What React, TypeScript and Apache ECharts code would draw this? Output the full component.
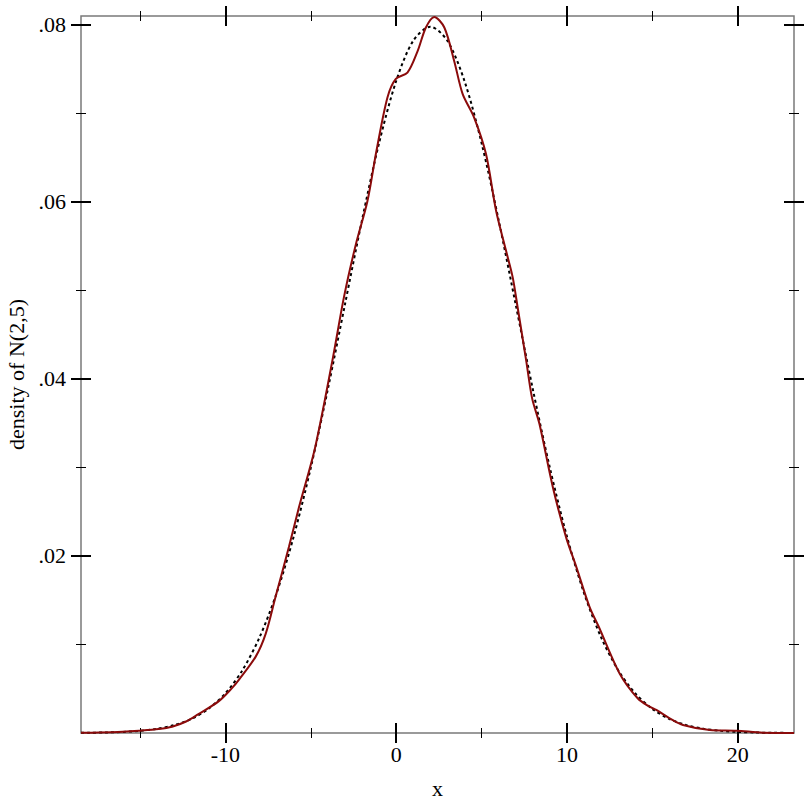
import React, { useEffect, useRef } from "react";
import * as echarts from "echarts";

const X_MIN = -18.45;
const X_MAX = 23.29;
const Y_MIN = 0;
const Y_MAX = 0.081;

const xMajorTicks = [-10, 0, 10, 20];
const xMinorTicks = [-15, -5, 5, 15];
const yMajorTicks = [0.02, 0.04, 0.06, 0.08];
const yMinorTicks = [0.01, 0.03, 0.05, 0.07];

// density of N(2,5) (dotted black)
const normalX = [-18.45, -18, -17, -16, -15, -14, -13, -12, -11, -10, -9, -8, -7, -6, -5, -4, -3, -2, -1, 0, 1, 2, 3, 4, 5, 6, 7, 8, 9, 10, 11, 12, 13, 14, 15, 16, 17, 18, 19, 20, 21, 22, 23, 23.29];
const normalY = [0.00002, 0.000027, 0.000058, 0.000122, 0.000247, 0.000477, 0.000886, 0.001583, 0.002717, 0.004479, 0.007095, 0.010798, 0.01579, 0.022184, 0.029945, 0.038837, 0.048394, 0.057938, 0.066645, 0.073654, 0.078208, 0.079788, 0.078208, 0.073654, 0.066645, 0.057938, 0.048394, 0.038837, 0.029945, 0.022184, 0.01579, 0.010798, 0.007095, 0.004479, 0.002717, 0.001583, 0.000886, 0.000477, 0.000247, 0.000122, 0.000058, 0.000027, 0.000012, 0.000009];

// kernel density estimate (dark red)
const kdeX = [-18.45, -17.4, -16, -15.07, -13.9, -13.12, -12.3, -11.6, -10.38, -9.6, -9.21, -8.23, -7.64, -7.06, -6.28, -5.69, -4.75, -3.74, -3.05, -2.36, -1.68, -1.15, -0.51, -0.02, 0.66, 1.25, 1.74, 2.23, 2.82, 3.4, 3.89, 4.57, 5.26, 5.85, 6.43, 6.82, 7.11, 7.61, 7.96, 8.39, 9.17, 9.95, 10.54, 11.32, 11.86, 13.08, 14.15, 14.84, 15.23, 16.01, 16.79, 18.36, 19.92, 21.47, 23.29];
const kdeY = [0.00003, 0.00006, 0.00015, 0.00026, 0.00045, 0.00071, 0.0013, 0.0021, 0.0036, 0.0051, 0.006, 0.0086, 0.0112, 0.0154, 0.021, 0.0255, 0.0322, 0.042, 0.0493, 0.0552, 0.0601, 0.0658, 0.0718, 0.0739, 0.0746, 0.077, 0.0797, 0.0809, 0.0797, 0.0759, 0.0722, 0.0695, 0.0654, 0.059, 0.0545, 0.0515, 0.0481, 0.0421, 0.0378, 0.0349, 0.0278, 0.0221, 0.0188, 0.01425, 0.012, 0.00673, 0.0039, 0.00297, 0.0026, 0.00166, 0.0009, 0.00034, 0.00026, 0.00004, 0.00001];

const FONT = "Liberation Serif";
const FS = 22;

function xAxisDef(position: string, values: number[], len: number, withLabel: boolean) {
  return {
    type: "value",
    min: X_MIN,
    max: X_MAX,
    position,
    offset: -len / 2,
    axisLine: { show: false, onZero: false },
    splitLine: { show: false },
    axisTick: {
      show: true,
      inside: false,
      length: len,
      customValues: values,
      lineStyle: { color: "#000", width: len > 10 ? 2 : 1 },
    },
    axisLabel: withLabel
      ? {
          show: true,
          customValues: values,
          margin: 20,
          fontFamily: FONT,
          fontSize: FS,
          color: "#000",
        }
      : { show: false },
    name: withLabel ? "x" : "",
    nameLocation: "middle",
    nameGap: 54,
    nameTextStyle: { fontFamily: FONT, fontSize: FS, color: "#000" },
  };
}

function yAxisDef(position: string, values: number[], len: number, withLabel: boolean) {
  return {
    type: "value",
    min: Y_MIN,
    max: Y_MAX,
    position,
    offset: -len / 2,
    axisLine: { show: false, onZero: false },
    splitLine: { show: false },
    axisTick: {
      show: true,
      inside: false,
      length: len,
      customValues: values,
      lineStyle: { color: "#000", width: len > 10 ? 2 : 1 },
    },
    axisLabel: withLabel
      ? {
          show: true,
          customValues: values,
          margin: 25,
          fontFamily: FONT,
          fontSize: FS,
          color: "#000",
          formatter: (v: number) => v.toFixed(2).replace(/^0/, ""),
        }
      : { show: false },
    name: withLabel ? "density of N(2,5)" : "",
    nameLocation: "middle",
    nameGap: 62,
    nameTextStyle: { fontFamily: FONT, fontSize: FS, color: "#000" },
  };
}

export default function App() {
  const ref = useRef<HTMLDivElement>(null);
  useEffect(() => {
    if (!ref.current) return;
    const chart = echarts.init(ref.current, undefined, { renderer: "svg" });
    const normalData = normalX.map((x, i) => [x, normalY[i]]);
    const kdeData = kdeX.map((x, i) => [x, kdeY[i]]);
    chart.setOption({
      animation: false,
      backgroundColor: "#fff",
      grid: {
        left: 81,
        right: 18,
        top: 16,
        bottom: 79,
        containLabel: false,
        outerBoundsMode: "none",
        show: true,
        borderColor: "#7a7a7a",
        borderWidth: 1.5,
        backgroundColor: "transparent",
      },
      xAxis: [
        xAxisDef("bottom", xMajorTicks, 20, true),
        xAxisDef("bottom", xMinorTicks, 10, false),
        xAxisDef("top", xMajorTicks, 20, false),
        xAxisDef("top", xMinorTicks, 10, false),
      ],
      yAxis: [
        yAxisDef("left", yMajorTicks, 20, true),
        yAxisDef("left", yMinorTicks, 10, false),
        yAxisDef("right", yMajorTicks, 20, false),
        yAxisDef("right", yMinorTicks, 10, false),
      ],
      series: [
        {
          type: "line",
          xAxisIndex: 0,
          yAxisIndex: 0,
          data: normalData,
          smooth: 0.3,
          showSymbol: false,
          lineStyle: { color: "#000", width: 2, type: [3, 3] },
        },
        {
          type: "line",
          xAxisIndex: 0,
          yAxisIndex: 0,
          data: kdeData,
          smooth: 0.3,
          showSymbol: false,
          lineStyle: { color: "#8b0b0b", width: 2 },
        },
      ],
    });
    return () => chart.dispose();
  }, []);
  return (
    <div
      ref={ref}
      style={{ position: "fixed", left: 0, top: 0, width: 812, height: 812, background: "#fff" }}
    />
  );
}
